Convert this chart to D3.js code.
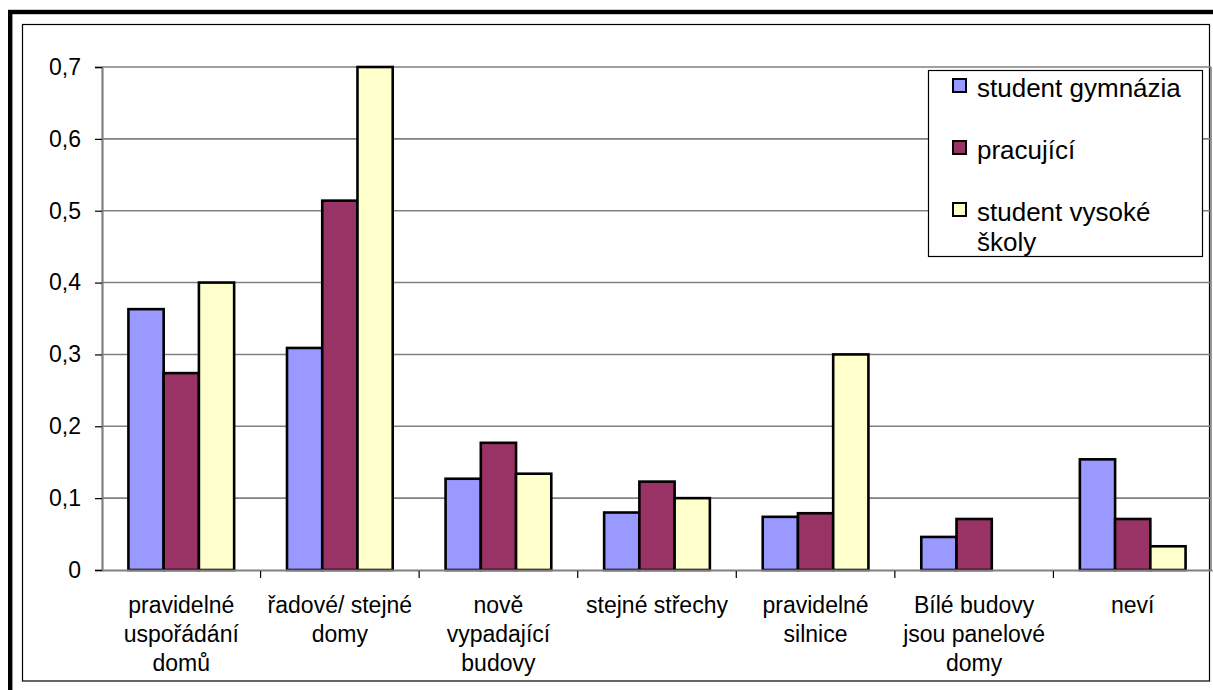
<!DOCTYPE html>
<html>
<head>
<meta charset="utf-8">
<script src="https://cdn.jsdelivr.net/npm/d3@7/dist/d3.min.js"></script>
<style>
  html, body { margin: 0; padding: 0; background: #fff; }
  svg { display: block; font-family: "Liberation Sans", Arial, sans-serif; }
</style>
</head>
<body>
<svg id="chart" width="1213" height="690"></svg>
<script>
// Categories (line breaks are kept as in the labels)
const categories = [
  "pravidelné\nuspořádání\ndomů",
  "řadové/ stejné\ndomy",
  "nově\nvypadající\nbudovy",
  "stejné střechy",
  "pravidelné\nsilnice",
  "Bílé budovy\njsou panelové\ndomy",
  "neví"
];

// Series
const seriesNames = ["student gymnázia", "pracující", "student vysoké\nškoly"];
const studentGymnazia = [0.363, 0.309, 0.127, 0.080, 0.074, 0.046, 0.154];
const pracujici       = [0.274, 0.514, 0.177, 0.123, 0.079, 0.071, 0.071];
const studentVS       = [0.400, 0.700, 0.134, 0.100, 0.300, 0.000, 0.033];
const seriesColors = ["#9999FF", "#993366", "#FFFFCC"];

// Value axis ticks
const yTicks = [0, 0.1, 0.2, 0.3, 0.4, 0.5, 0.6, 0.7];

const seriesValues = [studentGymnazia, pracujici, studentVS];
const cz = d3.formatLocale({ decimal: ",", thousands: " ", grouping: [3], currency: ["", " Kč"] });
const fmt = cz.format(".1~f");

const svg = d3.select("#chart");
const W = 1213, H = 690;

svg.append("rect").attr("width", W).attr("height", H).attr("fill", "#fff");

// Outer heavy frame (runs off the right and bottom edges)
svg.append("rect")
  .attr("x", 10.2).attr("y", 12).attr("width", W + 20).attr("height", H + 20)
  .attr("fill", "none").attr("stroke", "#000").attr("stroke-width", 4.4);

// Chart area border
svg.append("rect")
  .attr("x", 22.5).attr("y", 24.5).attr("width", 1187).attr("height", 656.5)
  .attr("fill", "#fff").attr("stroke", "#000").attr("stroke-width", 1.2);

// Plot area
const plot = { left: 102, top: 67, right: 1211, bottom: 570 };

const x = d3.scaleBand().domain(categories).range([plot.left, plot.right + 1]).padding(0);
const xs = d3.scaleBand().domain(d3.range(seriesNames.length)).range([0, x.bandwidth()])
  .paddingInner(0).paddingOuter(0.75);
const y = d3.scaleLinear().domain([0, 0.7]).range([plot.bottom, plot.top]);

// Gridlines
svg.append("g")
  .selectAll("line").data(yTicks.filter(d => d > 0))
  .join("line")
  .attr("x1", plot.left).attr("x2", plot.right)
  .attr("y1", d => y(d)).attr("y2", d => y(d))
  .attr("stroke", "#808080").attr("stroke-width", 1.6);

// Plot area right border
svg.append("line")
  .attr("x1", plot.right).attr("x2", plot.right)
  .attr("y1", plot.top).attr("y2", plot.bottom)
  .attr("stroke", "#808080").attr("stroke-width", 1.6);

// Bars
const groups = svg.append("g").selectAll("g").data(categories).join("g")
  .attr("transform", d => `translate(${x(d)},0)`);

groups.selectAll("rect")
  .data((c, i) => seriesValues.map((vals, s) => ({ s, v: vals[i] })).filter(d => d.v > 0))
  .join("rect")
  .attr("x", d => xs(d.s))
  .attr("width", xs.bandwidth())
  .attr("y", d => y(d.v))
  .attr("height", d => y(0) - y(d.v))
  .attr("fill", d => seriesColors[d.s])
  .attr("stroke", "#000").attr("stroke-width", 2.6);

// Value axis
const yAxis = d3.axisLeft(y).tickValues(yTicks).tickFormat(fmt).tickSize(7).tickPadding(14);
const gy = svg.append("g").attr("transform", `translate(${plot.left},0)`).call(yAxis);
gy.select(".domain").attr("stroke", "#808080").attr("stroke-width", 2.2);
gy.selectAll(".tick line").attr("stroke", "#000").attr("stroke-width", 1.2);
gy.selectAll(".tick text")
  .attr("font-size", 23).attr("fill", "#000")
  .attr("font-family", "Liberation Sans, Arial, sans-serif");

// Category axis
const xAxis = d3.axisBottom(x).tickValues([]).tickSizeOuter(0);
const gx = svg.append("g").attr("transform", `translate(0,${plot.bottom})`).call(xAxis);
gx.select(".domain").attr("stroke", "#808080").attr("stroke-width", 2.2);

// Category tick marks at band boundaries
gx.selectAll(".bt").data(categories.slice(1)).join("line")
  .attr("class", "bt")
  .attr("x1", d => x(d)).attr("x2", d => x(d))
  .attr("y1", 1).attr("y2", 8)
  .attr("stroke", "#000").attr("stroke-width", 1.2);

// Category labels
const catLabels = svg.append("g").selectAll("text").data(categories).join("text")
  .attr("x", d => x(d) + x.bandwidth() / 2)
  .attr("y", 613)
  .attr("text-anchor", "middle")
  .attr("font-size", 23)
  .attr("fill", "#000");
catLabels.each(function (d) {
  const t = d3.select(this);
  d.split("\n").forEach((line, i) => {
    t.append("tspan").attr("x", x(d) + x.bandwidth() / 2).attr("dy", i === 0 ? 0 : 29).text(line);
  });
});

// Legend
const legend = svg.append("g");
legend.append("rect")
  .attr("x", 928.5).attr("y", 70.5).attr("width", 274).attr("height", 186)
  .attr("fill", "#fff").attr("stroke", "#000").attr("stroke-width", 1.2);

const legendBaselines = [97, 159, 221];
seriesNames.forEach((name, i) => {
  const by = legendBaselines[i];
  legend.append("rect")
    .attr("x", 953).attr("y", by - 18).attr("width", 13).attr("height", 13)
    .attr("fill", seriesColors[i]).attr("stroke", "#000").attr("stroke-width", 2);
  const t = legend.append("text").attr("x", 977).attr("y", by)
    .attr("font-size", 26).attr("fill", "#000");
  name.split("\n").forEach((line, j) => {
    t.append("tspan").attr("x", 977).attr("dy", j === 0 ? 0 : 30).text(line);
  });
});
</script>
</body>
</html>
